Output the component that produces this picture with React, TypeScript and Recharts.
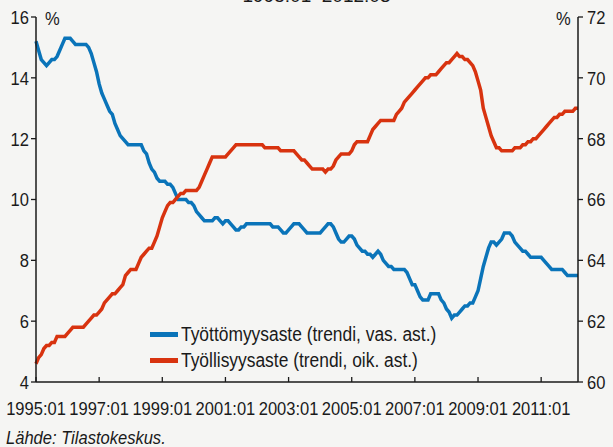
import { LineChart, Line, XAxis, YAxis } from 'recharts';

// Monthly trend values, 1995:01 – 2012:03 (one row per year)
const startYear = 1995;

const unemployment = [
  15.2, 14.9, 14.6, 14.5, 14.4, 14.5, 14.6, 14.6, 14.7, 14.9, 15.1, 15.3,
  15.3, 15.3, 15.2, 15.1, 15.1, 15.1, 15.1, 15.1, 15.0, 14.8, 14.5, 14.2,
  13.8, 13.5, 13.3, 13.1, 12.9, 12.8, 12.5, 12.3, 12.1, 12.0, 11.9, 11.8,
  11.8, 11.8, 11.8, 11.8, 11.8, 11.6, 11.5, 11.2, 11.0, 10.9, 10.7, 10.6,
  10.6, 10.6, 10.5, 10.5, 10.4, 10.2, 10.0, 10.0, 10.0, 10.0, 9.9, 9.9,
  9.8, 9.6, 9.5, 9.4, 9.3, 9.3, 9.3, 9.3, 9.4, 9.4, 9.3, 9.2,
  9.3, 9.3, 9.2, 9.1, 9.0, 9.0, 9.1, 9.1, 9.2, 9.2, 9.2, 9.2,
  9.2, 9.2, 9.2, 9.2, 9.2, 9.2, 9.1, 9.1, 9.1, 9.0, 8.9, 8.9,
  9.0, 9.1, 9.2, 9.2, 9.2, 9.1, 9.0, 8.9, 8.9, 8.9, 8.9, 8.9,
  8.9, 9.0, 9.1, 9.2, 9.2, 9.1, 8.9, 8.7, 8.6, 8.6, 8.7, 8.8,
  8.8, 8.7, 8.5, 8.4, 8.3, 8.3, 8.2, 8.2, 8.1, 8.2, 8.3, 8.2,
  8.0, 7.9, 7.8, 7.8, 7.7, 7.7, 7.7, 7.7, 7.7, 7.6, 7.4, 7.2,
  7.2, 7.0, 6.8, 6.7, 6.7, 6.7, 6.9, 6.9, 6.9, 6.9, 6.7, 6.6,
  6.4, 6.3, 6.1, 6.2, 6.2, 6.3, 6.4, 6.5, 6.5, 6.6, 6.6, 6.8,
  7.0, 7.4, 7.8, 8.1, 8.4, 8.6, 8.6, 8.5, 8.6, 8.7, 8.9, 8.9,
  8.9, 8.8, 8.6, 8.5, 8.4, 8.3, 8.3, 8.2, 8.1, 8.1, 8.1, 8.1,
  8.1, 8.0, 7.9, 7.8, 7.7, 7.7, 7.7, 7.7, 7.7, 7.6, 7.5, 7.5,
  7.5, 7.5, 7.5,
];

const employment = [
  60.6, 60.8, 60.9, 61.1, 61.2, 61.2, 61.3, 61.3, 61.5, 61.5, 61.5, 61.5,
  61.6, 61.7, 61.8, 61.8, 61.8, 61.8, 61.8, 61.9, 62.0, 62.1, 62.2, 62.2,
  62.3, 62.4, 62.6, 62.7, 62.8, 62.9, 62.9, 63.0, 63.1, 63.2, 63.5, 63.6,
  63.7, 63.7, 63.7, 63.9, 64.1, 64.2, 64.3, 64.4, 64.4, 64.6, 64.8, 65.1,
  65.4, 65.6, 65.8, 65.9, 65.9, 66.0, 66.1, 66.2, 66.2, 66.3, 66.3, 66.3,
  66.3, 66.3, 66.4, 66.6, 66.8, 67.0, 67.2, 67.4, 67.4, 67.4, 67.4, 67.4,
  67.4, 67.5, 67.6, 67.7, 67.8, 67.8, 67.8, 67.8, 67.8, 67.8, 67.8, 67.8,
  67.8, 67.8, 67.8, 67.7, 67.7, 67.7, 67.7, 67.7, 67.7, 67.6, 67.6, 67.6,
  67.6, 67.6, 67.6, 67.5, 67.4, 67.3, 67.3, 67.2, 67.1, 67.0, 67.0, 67.0,
  67.0, 67.0, 66.9, 67.0, 67.0, 67.1, 67.3, 67.4, 67.5, 67.5, 67.5, 67.5,
  67.6, 67.8, 67.9, 67.9, 67.9, 67.9, 67.9, 68.1, 68.3, 68.4, 68.5, 68.6,
  68.6, 68.6, 68.6, 68.6, 68.6, 68.8, 68.9, 69.0, 69.2, 69.3, 69.4, 69.5,
  69.6, 69.7, 69.8, 69.9, 70.0, 70.0, 70.1, 70.1, 70.1, 70.2, 70.3, 70.4,
  70.5, 70.5, 70.6, 70.7, 70.8, 70.7, 70.7, 70.6, 70.6, 70.5, 70.4, 70.2,
  69.9, 69.6, 69.0, 68.7, 68.4, 68.1, 67.9, 67.7, 67.7, 67.6, 67.6, 67.6,
  67.6, 67.6, 67.7, 67.7, 67.7, 67.8, 67.8, 67.9, 67.9, 68.0, 68.0, 68.1,
  68.2, 68.3, 68.4, 68.5, 68.6, 68.7, 68.7, 68.8, 68.8, 68.9, 68.9, 68.9,
  68.9, 69.0, 69.0,
];

const xTicks = [0, 24, 48, 72, 96, 120, 144, 168, 192];
const xTickLabels = ['1995:01', '1997:01', '1999:01', '2001:01', '2003:01', '2005:01', '2007:01', '2009:01', '2011:01'];
const leftTicks = [4, 6, 8, 10, 12, 14, 16];
const rightTicks = [60, 62, 64, 66, 68, 70, 72];
const seriesNames = ['Työttömyysaste (trendi, vas. ast.)', 'Työllisyysaste (trendi, oik. ast.)'];
const title = '1995:01–2012:03';
const source = 'Lähde: Tilastokeskus.';

const BLUE = '#0a74b9';
const RED = '#d8330f';
const INK = '#1a1a1a';
const BG = '#f5f5f3';
const FONT = '"Liberation Sans", Arial, sans-serif';
const SQUEEZE = 0.87;

const data = unemployment.map((v, i) => ({
  t: i,
  month: `${startYear + Math.floor(i / 12)}:${String((i % 12) + 1).padStart(2, '0')}`,
  unemp: v,
  emp: employment[i],
}));

function XTick({ x, y, payload }: any) {
  const idx = xTicks.indexOf(payload.value);
  return (
    <g transform={`translate(${x},${y})`}>
      <line x1={0} y1={0} x2={0} y2={-5} stroke={INK} strokeWidth={1.3} />
      <g transform={`translate(0,33) scale(${SQUEEZE},1)`}>
        <text textAnchor="middle" fill={INK} fontSize={19} fontFamily={FONT}>
          {idx >= 0 ? xTickLabels[idx] : ''}
        </text>
      </g>
    </g>
  );
}

function YTick({ x, y, payload, side }: any) {
  return (
    <g transform={`translate(${x},${y}) scale(${SQUEEZE},1)`}>
      <text textAnchor={side === 'left' ? 'end' : 'start'} dy="0.36em" fill={INK} fontSize={19} fontFamily={FONT}>
        {payload.value}
      </text>
    </g>
  );
}

const squeezed = (extra: any = {}) => ({
  position: 'absolute' as const,
  fontFamily: FONT,
  color: INK,
  whiteSpace: 'nowrap' as const,
  transformOrigin: 'left center',
  transform: `scaleX(${SQUEEZE})`,
  lineHeight: 1,
  ...extra,
});

export default function App() {
  return (
    <div style={{ position: 'absolute', left: 0, top: 0, width: 613, height: 447, background: BG, overflow: 'hidden' }}>
      <LineChart width={613} height={447} data={data} margin={{ top: 17, right: 0, bottom: 25, left: 0 }}>
        <XAxis
          dataKey="t"
          type="number"
          domain={[0, 206]}
          ticks={xTicks}
          interval={0}
          tick={<XTick />}
          tickLine={false}
          tickSize={0}
          tickMargin={0}
          height={40}
          axisLine={{ stroke: INK, strokeWidth: 1.5 }}
        />
        <YAxis
          yAxisId="left"
          domain={[4, 16]}
          ticks={leftTicks}
          interval={0}
          width={36}
          tickSize={5}
          tickMargin={2}
          tick={<YTick side="left" />}
          tickLine={{ stroke: INK, strokeWidth: 1.3 }}
          axisLine={{ stroke: INK, strokeWidth: 1.5 }}
        />
        <YAxis
          yAxisId="right"
          orientation="right"
          domain={[60, 72]}
          ticks={rightTicks}
          interval={0}
          width={35}
          tickSize={5}
          tickMargin={4}
          tick={<YTick side="right" />}
          tickLine={{ stroke: INK, strokeWidth: 1.3 }}
          axisLine={{ stroke: INK, strokeWidth: 1.5 }}
        />
        <Line yAxisId="left" type="linear" dataKey="unemp" name={seriesNames[0]} stroke={BLUE} strokeWidth={3.5} dot={false} isAnimationActive={false} />
        <Line yAxisId="right" type="linear" dataKey="emp" name={seriesNames[1]} stroke={RED} strokeWidth={3.5} dot={false} isAnimationActive={false} />
      </LineChart>

      {/* cut-off title at the very top */}
      <div style={{ position: 'absolute', left: 0, width: 613, top: -14, textAlign: 'center', fontFamily: FONT, fontSize: 19, color: INK, lineHeight: 1, paddingLeft: 10 }}>
        {title}
      </div>

      <div style={squeezed({ left: 45, top: 9, fontSize: 19 })}>%</div>
      <div style={squeezed({ left: 556, top: 9, fontSize: 19 })}>%</div>

      {/* legend */}
      {seriesNames.map((name, i) => (
        <div key={name} style={{ position: 'absolute', left: 150, top: 324 + i * 26, height: 20, display: 'flex', alignItems: 'center' }}>
          <span style={{ display: 'inline-block', width: 28, height: 5, background: i === 0 ? BLUE : RED }} />
          <span style={{ ...squeezed({ position: 'relative', fontSize: 20 }), marginLeft: 3 }}>{name}</span>
        </div>
      ))}

      <div style={squeezed({ left: 6, top: 428, fontSize: 19, fontStyle: 'italic' })}>{source}</div>
    </div>
  );
}
